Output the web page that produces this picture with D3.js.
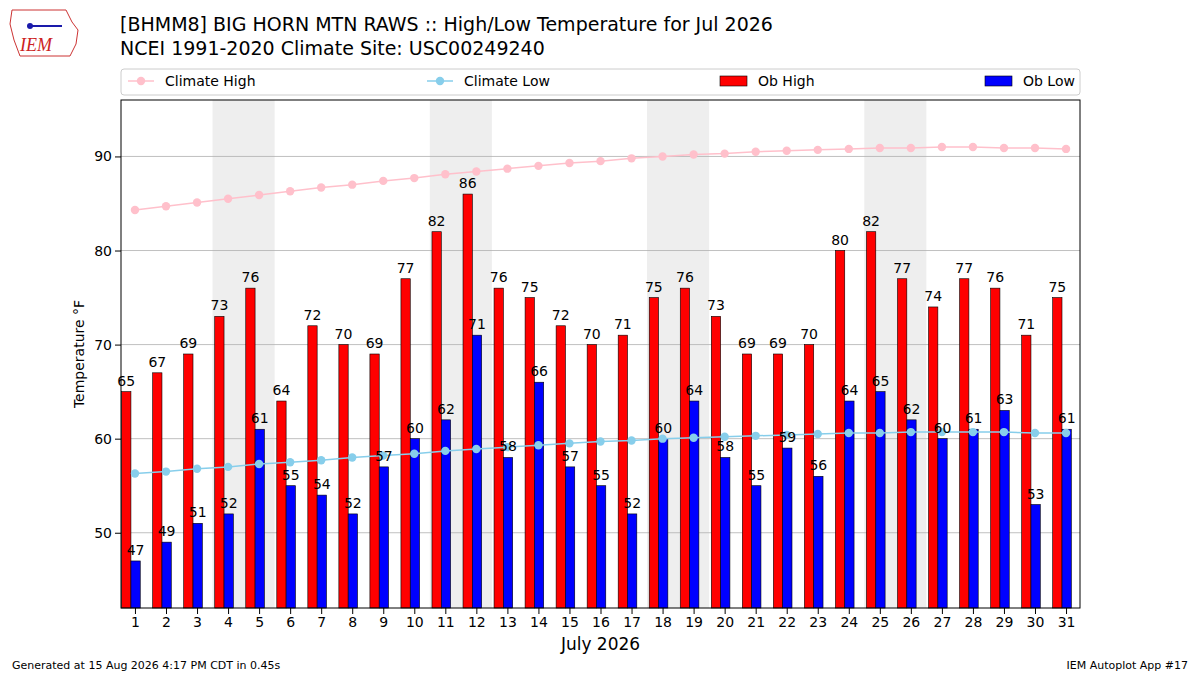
<!DOCTYPE html>
<html><head><meta charset="utf-8">
<script src="https://cdn.jsdelivr.net/npm/d3@7"></script>
<style>body{margin:0;background:#fff;font-family:"DejaVu Sans",sans-serif;}</style>
</head><body><div id="chart"></div>
<script>
var days = d3.range(1, 32);
var obHigh = [65,67,69,73,76,64,72,70,69,77,82,86,76,75,72,70,71,75,76,73,69,69,70,80,82,77,74,77,76,71,75];
var obLow = [47,49,51,52,61,55,54,52,57,60,62,71,58,66,57,55,52,60,64,58,55,59,56,64,65,62,60,61,63,53,61];
var climHigh = [84.3,84.7,85.1,85.5,85.9,86.3,86.7,87.0,87.4,87.7,88.1,88.4,88.7,89.0,89.3,89.5,89.8,90.0,90.2,90.3,90.5,90.6,90.7,90.8,90.9,90.9,91.0,91.0,90.9,90.9,90.8];
var climLow = [56.3,56.5,56.8,57.0,57.3,57.5,57.7,58.0,58.2,58.4,58.7,58.9,59.1,59.3,59.5,59.7,59.8,60.0,60.1,60.2,60.3,60.4,60.5,60.6,60.6,60.7,60.7,60.7,60.7,60.6,60.6];
var weekends = [4, 11, 18, 25];
var yTicks = [50, 60, 70, 80, 90];

var svg = d3.select("#chart").append("svg").attr("width", 1200).attr("height", 675);
var margin = {left: 121, top: 100, right: 1080, bottom: 608};

var x = d3.scaleLinear().domain([0.55, 31.45]).range([margin.left, margin.right]);
var y = d3.scaleLinear().domain([42, 96]).range([margin.bottom, margin.top]);
var bw = x(0.3) - x(0);
var hiOff = -0.43, loOff = -0.13;

var g = svg.append("g");
// weekend shading
g.selectAll(".wk").data(weekends).enter().append("rect")
  .attr("x", d => x(d - 0.5)).attr("width", x(2) - x(0))
  .attr("y", margin.top).attr("height", margin.bottom - margin.top)
  .attr("fill", "#eeeeee");
// grid
g.selectAll(".grid").data(yTicks).enter().append("line")
  .attr("x1", margin.left).attr("x2", margin.right)
  .attr("y1", d => y(d)).attr("y2", d => y(d))
  .attr("stroke", "#b0b0b0").attr("stroke-width", 0.8);

// bars
g.selectAll(".hi").data(days).enter().append("rect")
  .attr("x", d => x(d + hiOff)).attr("width", bw)
  .attr("y", (d, i) => y(obHigh[i])).attr("height", (d, i) => margin.bottom - y(obHigh[i]))
  .attr("fill", "red").attr("stroke", "black").attr("stroke-width", 0.6);
g.selectAll(".lo").data(days).enter().append("rect")
  .attr("x", d => x(d + loOff)).attr("width", bw)
  .attr("y", (d, i) => y(obLow[i])).attr("height", (d, i) => margin.bottom - y(obLow[i]))
  .attr("fill", "blue").attr("stroke", "black").attr("stroke-width", 0.6);

// climate lines
function climLine(vals, color) {
  var line = d3.line().x((d, i) => x(days[i])).y(d => y(d));
  g.append("path").datum(vals).attr("d", line).attr("fill", "none")
    .attr("stroke", color).attr("stroke-width", 1.5);
  g.selectAll(null).data(vals).enter().append("circle")
    .attr("cx", (d, i) => x(days[i])).attr("cy", d => y(d)).attr("r", 4.2).attr("fill", color);
}
climLine(climHigh, "pink");
climLine(climLow, "skyblue");

// labels
g.selectAll(".hl").data(days).enter().append("text")
  .attr("x", d => x(d + hiOff + 0.15)).attr("y", (d, i) => y(obHigh[i]) - 6)
  .attr("text-anchor", "middle").attr("font-size", 14).text((d, i) => obHigh[i]);
g.selectAll(".ll").data(days).enter().append("text")
  .attr("x", d => x(d + loOff + 0.15)).attr("y", (d, i) => y(obLow[i]) - 6)
  .attr("text-anchor", "middle").attr("font-size", 14).text((d, i) => obLow[i]);

// frame
svg.append("rect").attr("x", margin.left).attr("y", margin.top)
  .attr("width", margin.right - margin.left).attr("height", margin.bottom - margin.top)
  .attr("fill", "none").attr("stroke", "black").attr("stroke-width", 1);

// axes
var xAxis = svg.append("g").attr("transform", `translate(0,${margin.bottom})`)
  .call(d3.axisBottom(x).tickValues(days).tickFormat(d3.format("d")).tickSizeOuter(0));
var yAxis = svg.append("g").attr("transform", `translate(${margin.left},0)`)
  .call(d3.axisLeft(y).tickValues(yTicks).tickSizeOuter(0));
[xAxis, yAxis].forEach(a => {
  a.select(".domain").remove();
  a.selectAll("text").attr("font-size", 14).attr("font-family", "DejaVu Sans").attr("fill", "black");
});

svg.append("text").attr("x", x(16)).attr("y", 650).attr("text-anchor", "middle")
  .attr("font-size", 17).text("July 2026");
svg.append("text").attr("transform", `translate(84,${y(69)}) rotate(-90)`)
  .attr("text-anchor", "middle").attr("font-size", 14).text("Temperature °F");

// titles
svg.append("text").attr("x", 120).attr("y", 31).attr("font-size", 19).text("[BHMM8] BIG HORN MTN RAWS :: High/Low Temperature for Jul 2026");
svg.append("text").attr("x", 120).attr("y", 55).attr("font-size", 19).text("NCEI 1991-2020 Climate Site: USC00249240");

// legend
svg.append("rect").attr("x", 121).attr("y", 69).attr("width", 959).attr("height", 26).attr("rx", 3)
  .attr("fill", "white").attr("stroke", "#cccccc");
var lg = svg.append("g");
[["Climate High", "pink", 128], ["Climate Low", "skyblue", 427]].forEach(function (d) {
  lg.append("line").attr("x1", d[2]).attr("x2", d[2] + 26).attr("y1", 81).attr("y2", 81).attr("stroke", d[1]).attr("stroke-width", 1.5);
  lg.append("circle").attr("cx", d[2] + 13).attr("cy", 81).attr("r", 4.2).attr("fill", d[1]);
  lg.append("text").attr("x", d[2] + 37).attr("y", 86).attr("font-size", 14).text(d[0]);
});
[["Ob High", "red", 720], ["Ob Low", "blue", 985]].forEach(function (d) {
  lg.append("rect").attr("x", d[2]).attr("y", 76).attr("width", 27).attr("height", 10).attr("fill", d[1]).attr("stroke", "black").attr("stroke-width", 0.6);
  lg.append("text").attr("x", d[2] + 38).attr("y", 86).attr("font-size", 14).text(d[0]);
});

// logo
var logo = svg.append("g");
logo.append("path").attr("d", "M12,10 L66,10 L72,22 L78,30 L76,44 L70,56 L20,56 L14,40 L10,24 Z")
  .attr("fill", "none").attr("stroke", "#cc3333").attr("stroke-width", 1);
logo.append("text").attr("x", 20).attr("y", 51).attr("font-size", 18).attr("font-style", "italic")
  .attr("font-family", "Liberation Serif").attr("fill", "#cc2222").text("IEM");
logo.append("line").attr("x1", 30).attr("x2", 62).attr("y1", 26).attr("y2", 26).attr("stroke", "#1a1aaa").attr("stroke-width", 2);
logo.append("circle").attr("cx", 30).attr("cy", 26).attr("r", 3).attr("fill", "#1a1aaa");

// footer
svg.append("text").attr("x", 12).attr("y", 669).attr("font-size", 11).text("Generated at 15 Aug 2026 4:17 PM CDT in 0.45s");
svg.append("text").attr("x", 1188).attr("y", 669).attr("text-anchor", "end").attr("font-size", 11).text("IEM Autoplot App #17");
</script></body></html>
